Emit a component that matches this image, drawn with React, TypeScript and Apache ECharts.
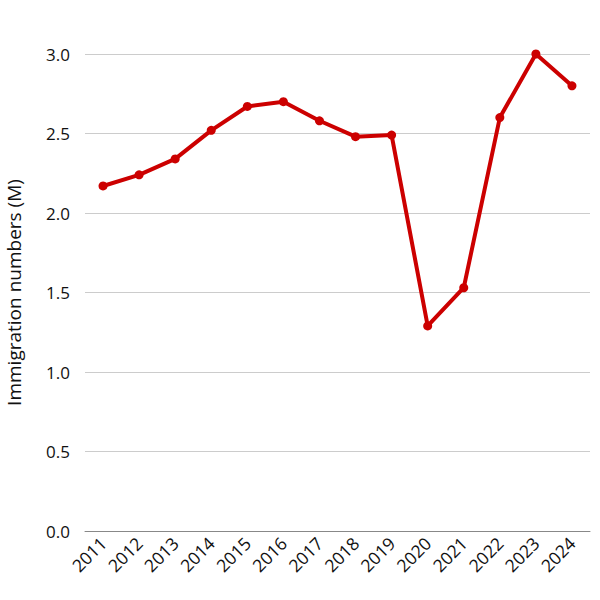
import React, { useEffect, useRef } from "react";
import * as echarts from "echarts";

const years = ["2011","2012","2013","2014","2015","2016","2017","2018","2019","2020","2021","2022","2023","2024"];
const immigration = [2.17, 2.24, 2.34, 2.52, 2.67, 2.70, 2.58, 2.48, 2.49, 1.29, 1.53, 2.60, 3.00, 2.80];
const yTicks = { min: 0, max: 3, interval: 0.5 };

export default function App() {
  const ref = useRef<HTMLDivElement>(null);
  useEffect(() => {
    const chart = echarts.init(ref.current!, null, { renderer: "svg" });
    const font = "Open Sans";
    chart.setOption({
      animation: false,
      grid: { left: 85, right: 10, top: 54, bottom: 69, containLabel: false, outerBoundsMode: "none" },
      xAxis: {
        type: "category",
        data: years,
        boundaryGap: true,
        axisLine: { show: true, lineStyle: { color: "#888", width: 1 } },
        axisTick: { show: false },
        axisLabel: { rotate: 45, color: "#111", fontSize: 17.5, fontFamily: font, margin: 9, interval: 0 },
      },
      yAxis: {
        type: "value",
        min: yTicks.min,
        max: yTicks.max,
        interval: yTicks.interval,
        name: "Immigration numbers (M)",
        nameLocation: "middle",
        nameGap: 62,
        nameTextStyle: { color: "#111", fontSize: 19, fontFamily: font },
        axisLine: { show: false },
        axisTick: { show: false },
        axisLabel: {
          color: "#111", fontSize: 17, fontFamily: font, margin: 15,
          formatter: (v: number) => v.toFixed(1),
        },
        splitLine: { lineStyle: { color: "#ccc", width: 1 } },
      },
      series: [
        {
          type: "line",
          data: immigration,
          symbol: "circle",
          symbolSize: 9,
          lineStyle: { color: "#cc0000", width: 4 },
          itemStyle: { color: "#cc0000" },
        },
      ],
    });
    return () => chart.dispose();
  }, []);
  return <div ref={ref} style={{ position: "fixed", left: 0, top: 0, width: 600, height: 600, background: "#fff" }} />;
}
